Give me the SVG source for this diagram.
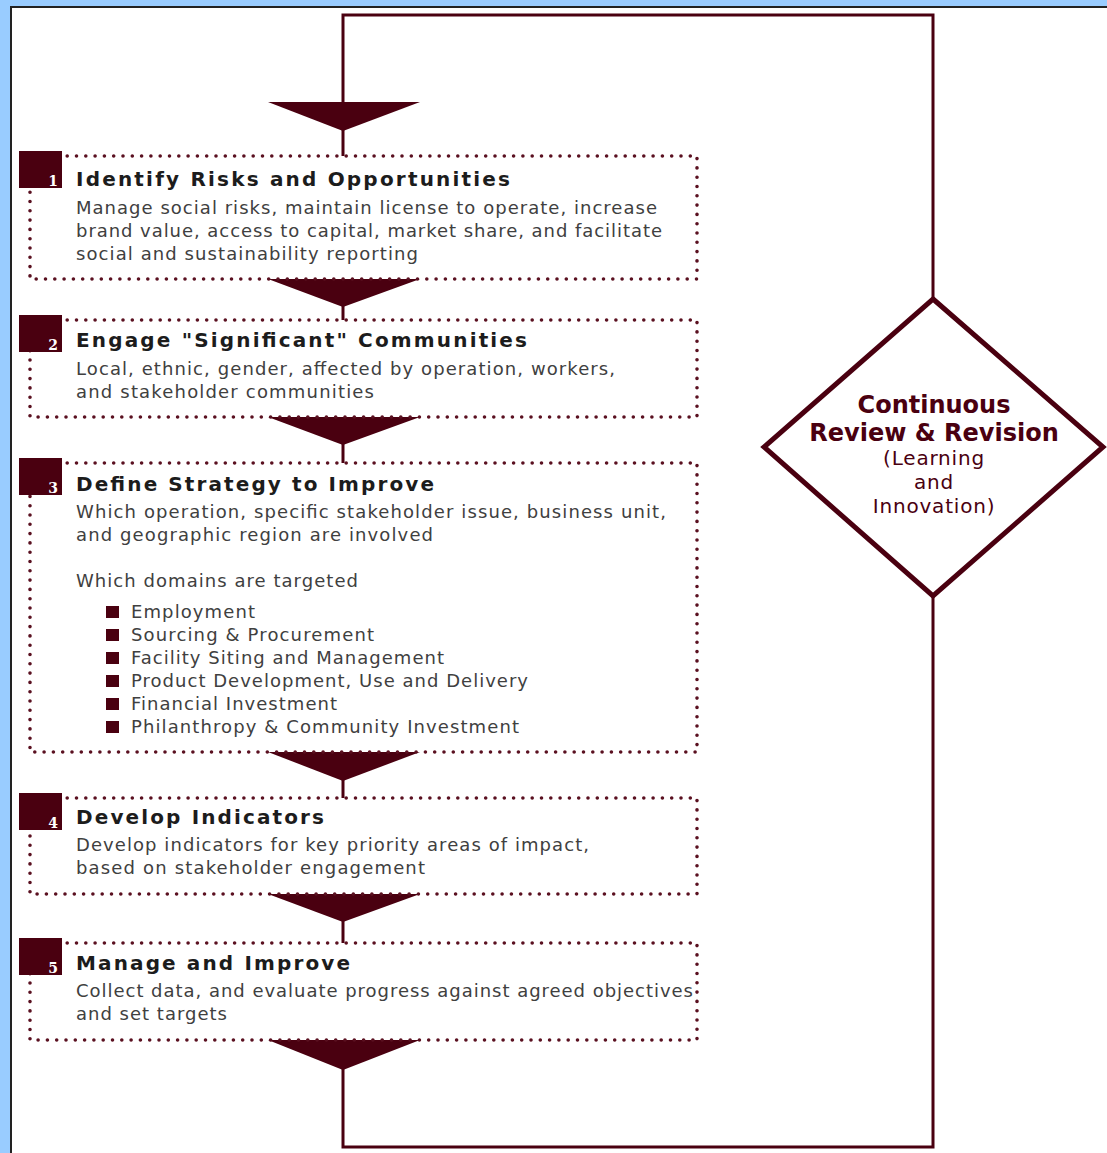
<svg xmlns="http://www.w3.org/2000/svg" width="1107" height="1153" viewBox="0 0 1107 1153">
<defs>
<style>
.box{fill:none;stroke:#5a1020;stroke-width:3.6;stroke-dasharray:0 9.3;stroke-linecap:round}
.num{fill:#4a0010}
.numt{fill:#fff;font-family:"DejaVu Serif",serif;font-weight:bold;font-size:14px;text-anchor:middle}
.title{fill:#1c1c1c;font-family:"DejaVu Sans",sans-serif;font-weight:bold;font-size:20px}
.body{fill:#404040;font-family:"DejaVu Sans",sans-serif;font-size:18px}
.tri{fill:#4a0010}
.line{fill:none;stroke:#4a0010;stroke-width:3}
.dia{fill:#fff;stroke:#4a0010;stroke-width:5;stroke-linejoin:miter}
.dt{fill:#4a0010;font-family:"DejaVu Sans",sans-serif;font-weight:bold;font-size:24px;text-anchor:middle}
.ds{fill:#4a0010;font-family:"DejaVu Sans",sans-serif;font-size:20px;letter-spacing:0.8px;text-anchor:middle}
.bul{fill:#4a0010}
</style>
</defs>
<rect x="0" y="0" width="1107" height="1153" fill="#99ccff"/>
<rect x="10" y="6" width="1097" height="1147" fill="#fff"/>
<path d="M11 1153 V7 H1107" fill="none" stroke="#222" stroke-width="2"/>

<g id="connectors">
<path class="line" d="M343 156 V15 H933 V298"/>
<path class="line" d="M933 597 V1147 H343 V1060"/>
<polygon class="tri" points="268,102 420,102 343,131"/>
<polygon class="tri" points="268,279 420,279 343,307"/>
<line class="line" x1="343" y1="300" x2="343" y2="320"/>
<polygon class="tri" points="268,417 420,417 343,445"/>
<line class="line" x1="343" y1="440" x2="343" y2="463"/>
<polygon class="tri" points="268,752 420,752 343,781"/>
<line class="line" x1="343" y1="775" x2="343" y2="798"/>
<polygon class="tri" points="268,894 420,894 343,922"/>
<line class="line" x1="343" y1="915" x2="343" y2="943"/>
<polygon class="tri" points="268,1040 420,1040 343,1070"/>
</g>

<g id="step1">
<rect class="box" x="30" y="156" width="667" height="123"/>
<rect class="num" x="19" y="151" width="43" height="37"/>
<text class="numt" x="53" y="186">1</text>
<text class="title" x="76" y="186" textLength="434" lengthAdjust="spacing">Identify Risks and Opportunities</text>
<text class="body" x="76" y="214" textLength="581" lengthAdjust="spacing">Manage social risks, maintain license to operate, increase</text>
<text class="body" x="76" y="237" textLength="586" lengthAdjust="spacing">brand value, access to capital, market share, and facilitate</text>
<text class="body" x="76" y="260" textLength="342" lengthAdjust="spacing">social and sustainability reporting</text>
</g>

<g id="step2">
<rect class="box" x="30" y="320" width="667" height="97"/>
<rect class="num" x="19" y="315" width="43" height="37"/>
<text class="numt" x="53" y="350">2</text>
<text class="title" x="76" y="347" textLength="451" lengthAdjust="spacing">Engage "Significant" Communities</text>
<text class="body" x="76" y="375" textLength="539" lengthAdjust="spacing">Local, ethnic, gender, affected by operation, workers,</text>
<text class="body" x="76" y="398" textLength="298" lengthAdjust="spacing">and stakeholder communities</text>
</g>

<g id="step3">
<rect class="box" x="30" y="463" width="667" height="289"/>
<rect class="num" x="19" y="458" width="43" height="37"/>
<text class="numt" x="53" y="493">3</text>
<text class="title" x="76" y="491" textLength="358" lengthAdjust="spacing">Define Strategy to Improve</text>
<text class="body" x="76" y="518" textLength="590" lengthAdjust="spacing">Which operation, specific stakeholder issue, business unit,</text>
<text class="body" x="76" y="541" textLength="357" lengthAdjust="spacing">and geographic region are involved</text>
<text class="body" x="76" y="587" textLength="282" lengthAdjust="spacing">Which domains are targeted</text>
<rect class="bul" x="106" y="606" width="13" height="12"/>
<text class="body" x="131" y="618" textLength="124" lengthAdjust="spacing">Employment</text>
<rect class="bul" x="106" y="629" width="13" height="12"/>
<text class="body" x="131" y="641" textLength="243" lengthAdjust="spacing">Sourcing &amp; Procurement</text>
<rect class="bul" x="106" y="652" width="13" height="12"/>
<text class="body" x="131" y="664" textLength="313" lengthAdjust="spacing">Facility Siting and Management</text>
<rect class="bul" x="106" y="675" width="13" height="12"/>
<text class="body" x="131" y="687" textLength="397" lengthAdjust="spacing">Product Development, Use and Delivery</text>
<rect class="bul" x="106" y="698" width="13" height="12"/>
<text class="body" x="131" y="710" textLength="206" lengthAdjust="spacing">Financial Investment</text>
<rect class="bul" x="106" y="721" width="13" height="12"/>
<text class="body" x="131" y="733" textLength="388" lengthAdjust="spacing">Philanthropy &amp; Community Investment</text>
</g>

<g id="step4">
<rect class="box" x="30" y="798" width="667" height="96"/>
<rect class="num" x="19" y="793" width="43" height="37"/>
<text class="numt" x="53" y="828">4</text>
<text class="title" x="76" y="824" textLength="248" lengthAdjust="spacing">Develop Indicators</text>
<text class="body" x="76" y="851" textLength="513" lengthAdjust="spacing">Develop indicators for key priority areas of impact,</text>
<text class="body" x="76" y="874" textLength="349" lengthAdjust="spacing">based on stakeholder engagement</text>
</g>

<g id="step5">
<rect class="box" x="30" y="943" width="667" height="97"/>
<rect class="num" x="19" y="938" width="43" height="37"/>
<text class="numt" x="53" y="973">5</text>
<text class="title" x="76" y="970" textLength="274" lengthAdjust="spacing">Manage and Improve</text>
<text class="body" x="76" y="997" textLength="617" lengthAdjust="spacing">Collect data, and evaluate progress against agreed objectives</text>
<text class="body" x="76" y="1020" textLength="151" lengthAdjust="spacing">and set targets</text>
</g>

<g id="review">
<polygon class="dia" points="933,299 1103,447 933,596 764,447"/>
<text class="dt" x="934" y="413">Continuous</text>
<text class="dt" x="934" y="441">Review &amp; Revision</text>
<text class="ds" x="934" y="465">(Learning</text>
<text class="ds" x="934" y="489">and</text>
<text class="ds" x="934" y="513">Innovation)</text>
</g>
</svg>
